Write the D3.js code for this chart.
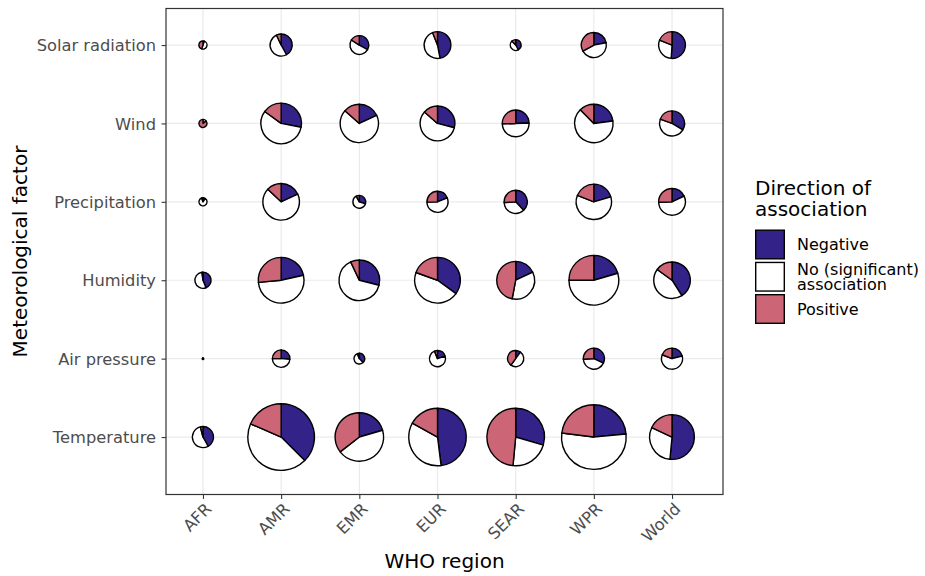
<!DOCTYPE html>
<html>
<head>
<meta charset="utf-8">
<script src="https://cdn.jsdelivr.net/npm/d3@7"></script>
<style>
  body { margin: 0; background: #fff; }
  svg { display: block; font-family: "DejaVu Sans", sans-serif; }
</style>
</head>
<body>
<div id="myfigure"></div>
<script>
// categories (y rows listed bottom to top)
const regions = ["AFR", "AMR", "EMR", "EUR", "SEAR", "WPR", "World"];
const factors = ["Temperature", "Air pressure", "Humidity", "Precipitation", "Wind", "Solar radiation"];

// number of estimates per cell (pie size), rows follow `factors`, columns follow `regions`
const totals = [
  [9, 100, 52, 74, 74, 94, 44],
  [0, 6, 2, 5, 5, 9, 9],
  [5, 46, 36, 46, 31, 55, 29],
  [1, 29, 3, 9, 11, 27, 15],
  [1, 36, 32, 26, 15, 32, 13],
  [1, 10, 7, 15, 2, 13, 15]
];

// share (%) of each direction of association
const negative = [
  [42, 37.5, 20.5, 48, 29.5, 23.5, 51.5],
  [0, 26, 38, 20, 10, 32, 21],
  [44, 21.5, 29, 35, 18, 20.5, 41],
  [10, 18, 30, 19, 38, 20.5, 18],
  [0, 28, 18, 29, 24.5, 23, 33.5],
  [5, 42, 33, 47, 42, 22, 51]
];
const noAssoc = [
  [54, 44, 44, 35, 22, 53.5, 30.5],
  [100, 49, 56, 74, 50, 42, 60],
  [54, 52, 64, 45.5, 35, 54.5, 44],
  [85, 69, 62, 55.5, 36, 60.5, 56.5],
  [15, 57, 68.5, 57.5, 50, 64.5, 47],
  [50, 51, 51, 47, 46, 45, 30]
];
const positive = [
  [4, 18.5, 35.5, 17, 48.5, 23, 18],
  [0, 25, 6, 6, 40, 26, 19],
  [2, 26.5, 7, 19.5, 47, 25, 15],
  [5, 13, 8, 25.5, 26, 19, 25.5],
  [85, 15, 13.5, 13.5, 25.5, 12.5, 19.5],
  [45, 7, 16, 6, 12, 33, 19]
];

const directions = [["Negative"], ["No (significant)", "association"], ["Positive"]];
const colours = ["#332288", "#FFFFFF", "#CC6677"];

const W = 925, H = 576;
const panel = { left: 166, right: 723, top: 8.5, bottom: 494.5 };
const font = "'DejaVu Sans', sans-serif";

const svg = d3.select("#myfigure").append("svg")
  .attr("width", W)
  .attr("height", H);

const x = d3.scaleLinear().domain([0.527, 7.652]).range([panel.left, panel.right]);
const y = d3.scaleLinear().domain([0.267, 6.466]).range([panel.bottom, panel.top]);
const r = d3.scaleSqrt().domain([0, 100]).range([0.8, 33.3]);

// grid
const grid = svg.append("g");
grid.selectAll(".gx").data(regions).join("line")
  .attr("x1", (d, i) => x(i + 1)).attr("x2", (d, i) => x(i + 1))
  .attr("y1", panel.top).attr("y2", panel.bottom)
  .attr("stroke", "#EBEBEB").attr("stroke-width", 1.2);
grid.selectAll(".gy").data(factors).join("line")
  .attr("y1", (d, i) => y(i + 1)).attr("y2", (d, i) => y(i + 1))
  .attr("x1", panel.left).attr("x2", panel.right)
  .attr("stroke", "#EBEBEB").attr("stroke-width", 1.2);

// pies
const pie = d3.pie().sort(null).value(d => d);
const arc = d3.arc().innerRadius(0);

const cells = [];
factors.forEach((f, fi) => {
  regions.forEach((reg, ri) => {
    cells.push({
      fi, ri,
      n: totals[fi][ri],
      shares: [negative[fi][ri], noAssoc[fi][ri], positive[fi][ri]]
    });
  });
});

const pieG = svg.append("g").selectAll("g").data(cells).join("g")
  .attr("transform", d => `translate(${x(d.ri + 1)},${y(d.fi + 1)})`);

pieG.selectAll("path")
  .data(d => pie(d.shares).map((s, k) => ({ ...s, k, rad: r(d.n) })))
  .join("path")
  .attr("d", s => arc.outerRadius(s.rad)(s))
  .attr("fill", s => colours[s.k])
  .attr("stroke", "#000")
  .attr("stroke-width", 1.4)
  .attr("stroke-linejoin", "round");

// panel border
svg.append("rect")
  .attr("x", panel.left).attr("y", panel.top)
  .attr("width", panel.right - panel.left).attr("height", panel.bottom - panel.top)
  .attr("fill", "none").attr("stroke", "#333333").attr("stroke-width", 1.2);

// axes
const xAxis = d3.axisBottom(x)
  .tickValues(d3.range(1, regions.length + 1))
  .tickFormat(i => regions[i - 1])
  .tickSize(4.4).tickSizeOuter(0);
const gx = svg.append("g").attr("transform", `translate(0,${panel.bottom})`).call(xAxis)
  .attr("font-family", font);
gx.select(".domain").remove();
gx.selectAll(".tick line").attr("stroke", "#333333").attr("stroke-width", 1.1);
gx.selectAll(".tick text")
  .attr("fill", "#4D4D4D")
  .attr("font-size", 16.3)
  .attr("text-anchor", "end")
  .attr("y", 0).attr("dy", 0)
  .attr("transform", "translate(9,15.5) rotate(-45)");

const yAxis = d3.axisLeft(y)
  .tickValues(d3.range(1, factors.length + 1))
  .tickFormat(i => factors[i - 1])
  .tickSize(4.4).tickSizeOuter(0);
const gy = svg.append("g").attr("transform", `translate(${panel.left},0)`).call(yAxis)
  .attr("font-family", font);
gy.select(".domain").remove();
gy.selectAll(".tick line").attr("stroke", "#333333").attr("stroke-width", 1.1);
gy.selectAll(".tick text")
  .attr("fill", "#4D4D4D")
  .attr("font-size", 16.3)
  .attr("x", -10)
  .attr("dy", "0.35em");

// axis titles
svg.append("text")
  .attr("x", (panel.left + panel.right) / 2).attr("y", 568)
  .attr("text-anchor", "middle").attr("font-size", 20)
  .text("WHO region");
svg.append("text")
  .attr("transform", `translate(27,${(panel.top + panel.bottom) / 2}) rotate(-90)`)
  .attr("text-anchor", "middle").attr("font-size", 20)
  .text("Meteorological factor");

// legend
const legend = svg.append("g").attr("transform", "translate(755,0)");
legend.append("text").attr("x", 0).attr("y", 194.5).attr("font-size", 20).text("Direction of");
legend.append("text").attr("x", 0).attr("y", 216).attr("font-size", 20).text("association");

const keyY = d3.scalePoint().domain(d3.range(directions.length)).range([244.5, 309]);
const keys = legend.selectAll(".key").data(directions).join("g")
  .attr("transform", (d, i) => `translate(0,${keyY(i)})`);
keys.append("rect")
  .attr("x", 0.7).attr("y", -14.3).attr("width", 28.6).attr("height", 28.6)
  .attr("fill", (d, i) => colours[i])
  .attr("stroke", "#000").attr("stroke-width", 1.4);
keys.append("text")
  .attr("x", 42)
  .attr("font-size", 16)
  .selectAll("tspan").data(d => d.map((t, j) => ({ t, j, m: d.length })))
  .join("tspan")
  .attr("x", 42)
  .attr("y", s => (s.j - (s.m - 1) / 2) * 15.5)
  .attr("dy", "0.35em")
  .text(s => s.t);
</script>
</body>
</html>
